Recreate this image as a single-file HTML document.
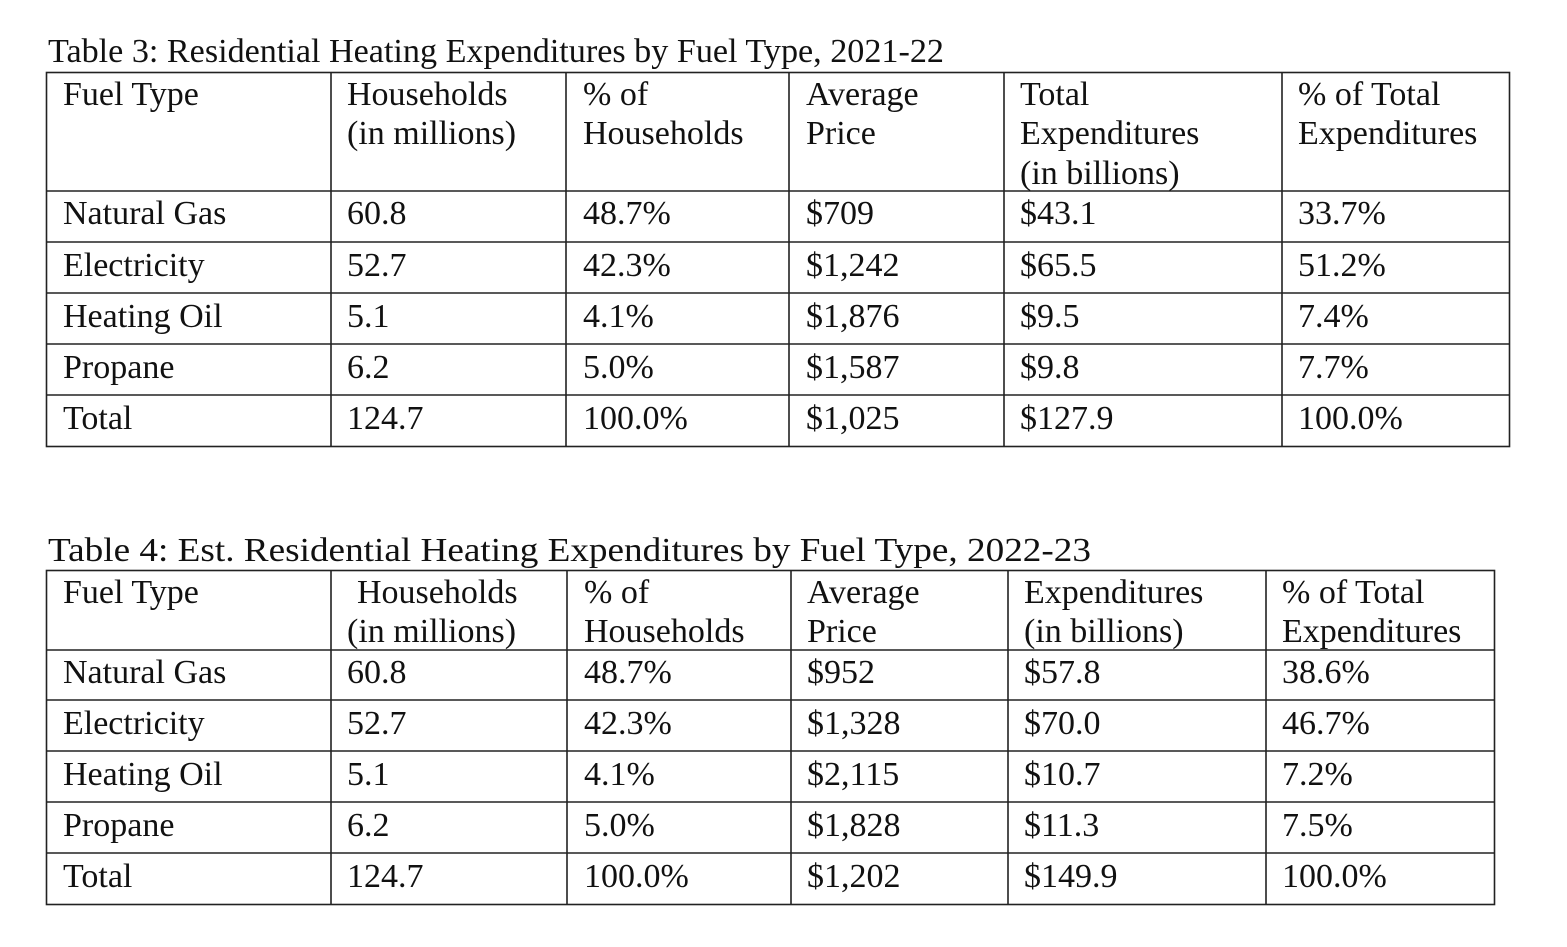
<!DOCTYPE html>
<html><head><style>
html,body{margin:0;padding:0;background:#fff;}
svg text{font-family:"Liberation Serif","Times New Roman",serif;font-size:34px;fill:#111;}
</style></head><body>
<svg width="1567" height="942" xmlns="http://www.w3.org/2000/svg">
<rect width="1567" height="942" fill="#fff"/>
<text x="48" y="62" textLength="896" lengthAdjust="spacingAndGlyphs">Table 3: Residential Heating Expenditures by Fuel Type, 2021-22</text>
<g stroke="#222" stroke-width="1.6" fill="none">
<rect x="46.5" y="72.5" width="1463" height="374"/>
<line x1="331" y1="72" x2="331" y2="446"/><line x1="566" y1="72" x2="566" y2="446"/>
<line x1="789" y1="72" x2="789" y2="446"/><line x1="1004" y1="72" x2="1004" y2="446"/>
<line x1="1282" y1="72" x2="1282" y2="446"/>
<line x1="46" y1="191" x2="1509" y2="191"/><line x1="46" y1="242" x2="1509" y2="242"/>
<line x1="46" y1="293" x2="1509" y2="293"/><line x1="46" y1="344" x2="1509" y2="344"/>
<line x1="46" y1="395" x2="1509" y2="395"/>
</g>
<text x="63" y="105">Fuel Type</text>
<text x="347" y="105">Households</text><text x="347" y="144">(in millions)</text>
<text x="583" y="105">% of</text><text x="583" y="144">Households</text>
<text x="806" y="105">Average</text><text x="806" y="144">Price</text>
<text x="1020" y="105">Total</text><text x="1020" y="144">Expenditures</text><text x="1020" y="184">(in billions)</text>
<text x="1298" y="105">% of Total</text><text x="1298" y="144">Expenditures</text>
<g>
<text x="63" y="224">Natural Gas</text><text x="347" y="224">60.8</text><text x="583" y="224">48.7%</text><text x="806" y="224">$709</text><text x="1020" y="224">$43.1</text><text x="1298" y="224">33.7%</text>
<text x="63" y="276">Electricity</text><text x="347" y="276">52.7</text><text x="583" y="276">42.3%</text><text x="806" y="276">$1,242</text><text x="1020" y="276">$65.5</text><text x="1298" y="276">51.2%</text>
<text x="63" y="327">Heating Oil</text><text x="347" y="327">5.1</text><text x="583" y="327">4.1%</text><text x="806" y="327">$1,876</text><text x="1020" y="327">$9.5</text><text x="1298" y="327">7.4%</text>
<text x="63" y="378">Propane</text><text x="347" y="378">6.2</text><text x="583" y="378">5.0%</text><text x="806" y="378">$1,587</text><text x="1020" y="378">$9.8</text><text x="1298" y="378">7.7%</text>
<text x="63" y="429">Total</text><text x="347" y="429">124.7</text><text x="583" y="429">100.0%</text><text x="806" y="429">$1,025</text><text x="1020" y="429">$127.9</text><text x="1298" y="429">100.0%</text>
</g>

<text x="48" y="561" textLength="1043" lengthAdjust="spacingAndGlyphs">Table 4: Est. Residential Heating Expenditures by Fuel Type, 2022-23</text>
<g stroke="#222" stroke-width="1.6" fill="none">
<rect x="46.5" y="570.5" width="1448" height="334"/>
<line x1="331" y1="570" x2="331" y2="904"/><line x1="567" y1="570" x2="567" y2="904"/>
<line x1="791" y1="570" x2="791" y2="904"/><line x1="1008" y1="570" x2="1008" y2="904"/>
<line x1="1266" y1="570" x2="1266" y2="904"/>
<line x1="46" y1="650" x2="1494" y2="650"/><line x1="46" y1="700" x2="1494" y2="700"/>
<line x1="46" y1="751" x2="1494" y2="751"/><line x1="46" y1="802" x2="1494" y2="802"/>
<line x1="46" y1="853" x2="1494" y2="853"/>
</g>
<text x="63" y="603">Fuel Type</text>
<text x="357" y="603">Households</text><text x="347" y="642">(in millions)</text>
<text x="584" y="603">% of</text><text x="584" y="642">Households</text>
<text x="807" y="603">Average</text><text x="807" y="642">Price</text>
<text x="1024" y="603">Expenditures</text><text x="1024" y="642">(in billions)</text>
<text x="1282" y="603">% of Total</text><text x="1282" y="642">Expenditures</text>
<g>
<text x="63" y="683">Natural Gas</text><text x="347" y="683">60.8</text><text x="584" y="683">48.7%</text><text x="807" y="683">$952</text><text x="1024" y="683">$57.8</text><text x="1282" y="683">38.6%</text>
<text x="63" y="734">Electricity</text><text x="347" y="734">52.7</text><text x="584" y="734">42.3%</text><text x="807" y="734">$1,328</text><text x="1024" y="734">$70.0</text><text x="1282" y="734">46.7%</text>
<text x="63" y="785">Heating Oil</text><text x="347" y="785">5.1</text><text x="584" y="785">4.1%</text><text x="807" y="785">$2,115</text><text x="1024" y="785">$10.7</text><text x="1282" y="785">7.2%</text>
<text x="63" y="836">Propane</text><text x="347" y="836">6.2</text><text x="584" y="836">5.0%</text><text x="807" y="836">$1,828</text><text x="1024" y="836">$11.3</text><text x="1282" y="836">7.5%</text>
<text x="63" y="887">Total</text><text x="347" y="887">124.7</text><text x="584" y="887">100.0%</text><text x="807" y="887">$1,202</text><text x="1024" y="887">$149.9</text><text x="1282" y="887">100.0%</text>
</g>
</svg>
</body></html>
